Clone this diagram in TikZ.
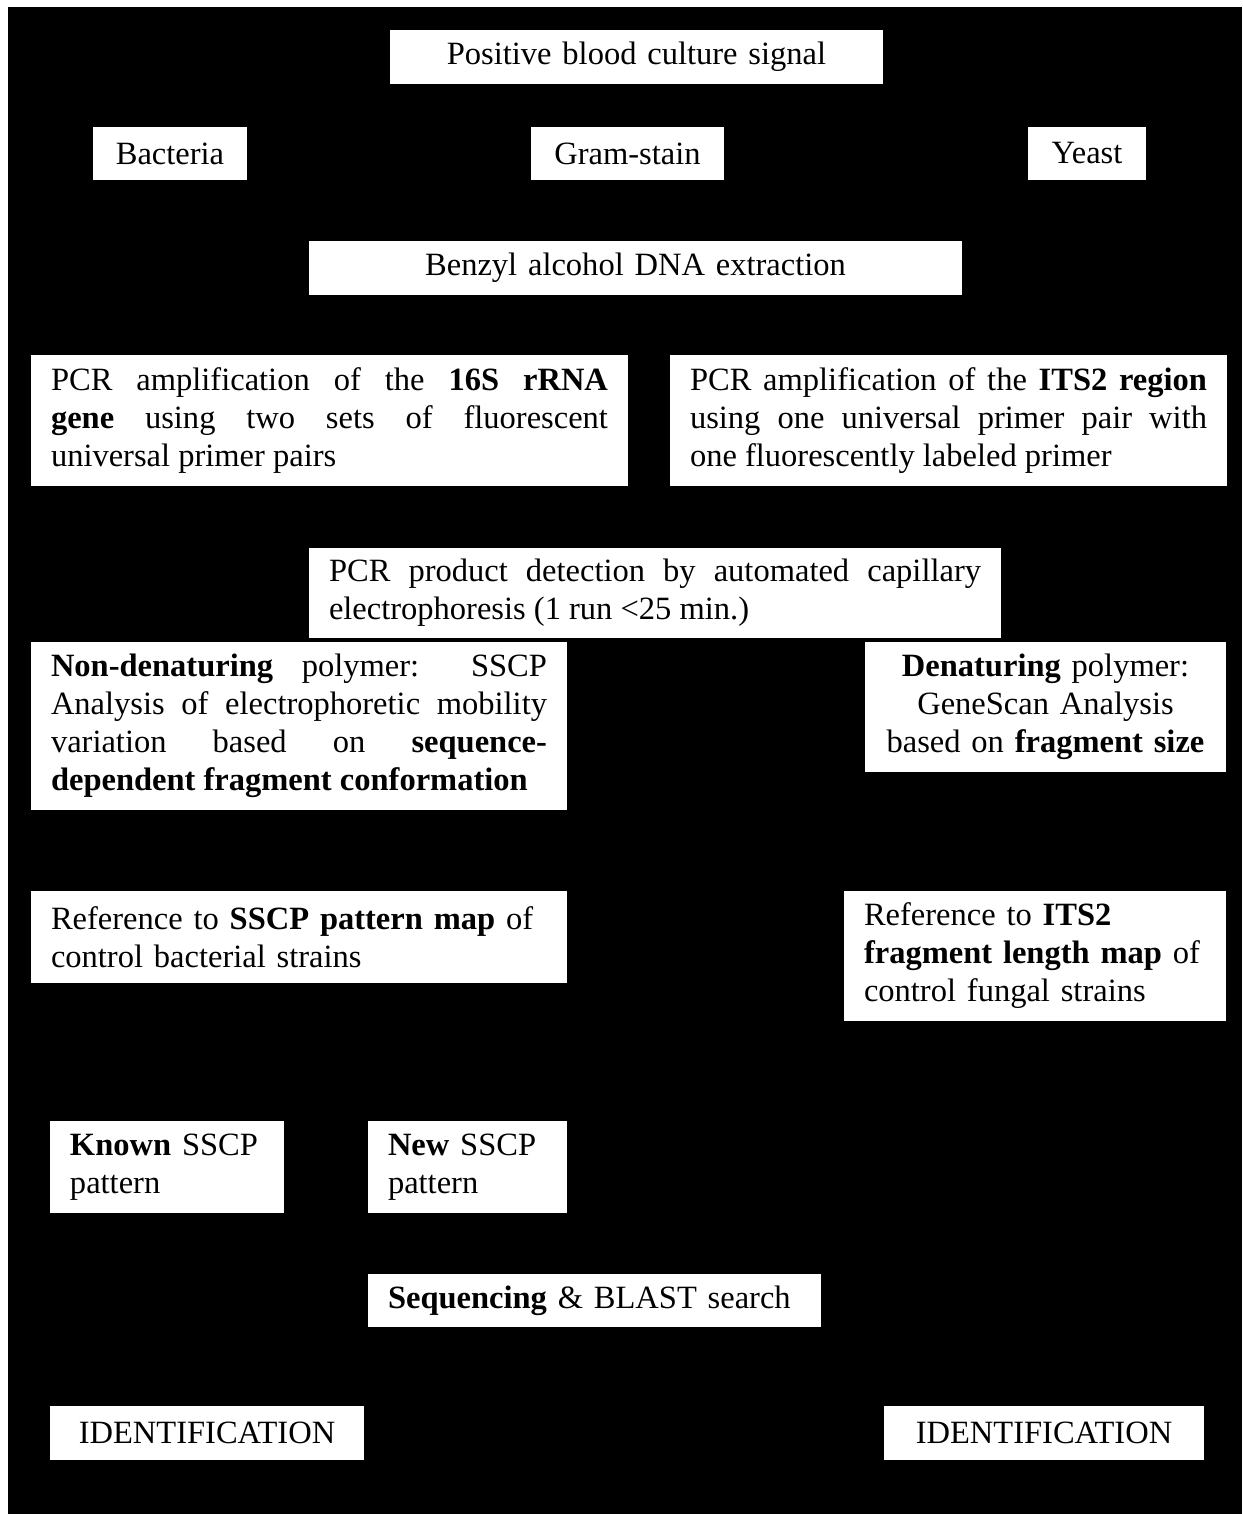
\documentclass[tikz,border=0pt]{standalone}
\usepackage{fontspec}
\setmainfont{Liberation Serif}
\usepackage{tikz}
\usetikzlibrary{positioning}
\tolerance=9999
\hyphenpenalty=10000

\begin{document}
\begin{tikzpicture}[
      cell/.style={fill=white,draw=none,inner xsep=0.4cm,inner ysep=0pt,
                   font=\fontsize{18.5}{21.6}\selectfont},
      ctr/.style={cell,align=center},
      lft/.style={cell,align=left},
      jst/.style={cell,align=justify}]
    % page: thin white margin top and left, black ground
    \useasboundingbox (0,0) rectangle (24.84,-30.28);
    \fill[white] (0,0) rectangle (24.84,-30.28);
    \fill[black] (0.16,-0.14) rectangle (24.84,-30.28);
    % top row
    \node[ctr,minimum width=9.86cm,minimum height=1.08cm,text width=9.06cm] (signal) at (12.73,-1.14) {Positive blood culture signal};
    \node[ctr,minimum width=3.08cm,minimum height=1.06cm,text width=2.28cm] (bact) at (3.40,-3.07) {Bacteria};
    \node[ctr,minimum width=3.86cm,minimum height=1.06cm,text width=3.06cm] (gram) at (12.55,-3.07) {Gram-stain};
    \node[ctr,minimum width=2.36cm,minimum height=1.06cm,text width=1.56cm] (yeast) at (21.74,-3.07) {Yeast};
    \node[ctr,minimum width=13.06cm,minimum height=1.08cm,text width=12.26cm] (extract) at (12.71,-5.36) {Benzyl alcohol DNA extraction};
    % amplification
    \node[jst,minimum width=11.94cm,minimum height=2.62cm,text width=11.14cm] (pcr16s) at (6.59,-8.41)
      {PCR amplification of the \textbf{16S rRNA}\linebreak \textbf{gene} using two sets of fluorescent\linebreak universal primer pairs};
    \node[jst,minimum width=11.14cm,minimum height=2.62cm,text width=10.34cm] (pcrits) at (18.97,-8.41)
      {PCR amplification of the \textbf{ITS2 region}\linebreak using one universal primer pair with\linebreak one fluorescently labeled primer};
    \node[jst,minimum width=13.84cm,minimum height=1.80cm,text width=13.04cm] (detect) at (13.10,-11.86)
      {PCR product detection by automated capillary\linebreak electrophoresis (1 run <25 min.)};
    % polymers
    \node[jst,minimum width=10.72cm,minimum height=3.36cm,text width=9.92cm] (nonden) at (5.98,-14.52)
      {\textbf{Non-denaturing} polymer: SSCP\linebreak Analysis of electrophoretic mobility\linebreak variation based on \textbf{sequence-}\linebreak \textbf{dependent fragment conformation}};
    \node[ctr,minimum width=7.22cm,minimum height=2.60cm,text width=6.42cm] (den) at (20.91,-14.14)
      {\textbf{Denaturing} polymer:\\ GeneScan Analysis\\ based on \textbf{fragment size}};
    % reference maps
    \node[lft,minimum width=10.72cm,minimum height=1.84cm,text width=9.92cm] (mapsscp) at (5.98,-18.74)
      {Reference to \textbf{SSCP pattern map} of\\ control bacterial strains};
    \node[lft,minimum width=7.64cm,minimum height=2.60cm,text width=6.84cm] (mapits) at (20.70,-19.12)
      {Reference to \textbf{ITS2}\\ \textbf{fragment length map} of\\ control fungal strains};
    % patterns
    \node[lft,minimum width=4.68cm,minimum height=1.84cm,text width=3.88cm] (known) at (3.34,-23.34)
      {\textbf{Known} SSCP\\ pattern};
    \node[lft,minimum width=3.98cm,minimum height=1.84cm,text width=3.18cm] (new) at (9.35,-23.34)
      {\textbf{New} SSCP\\ pattern};
    \node[lft,minimum width=9.06cm,minimum height=1.06cm,text width=8.26cm] (blast) at (11.89,-26.01)
      {\textbf{Sequencing} \& BLAST search};
    % results
    \node[ctr,minimum width=6.28cm,minimum height=1.08cm,text width=5.48cm] (identl) at (4.14,-28.66) {IDENTIFICATION};
    \node[ctr,minimum width=6.40cm,minimum height=1.08cm,text width=5.60cm] (identr) at (20.88,-28.66) {IDENTIFICATION};
  \end{tikzpicture}
\end{document}
